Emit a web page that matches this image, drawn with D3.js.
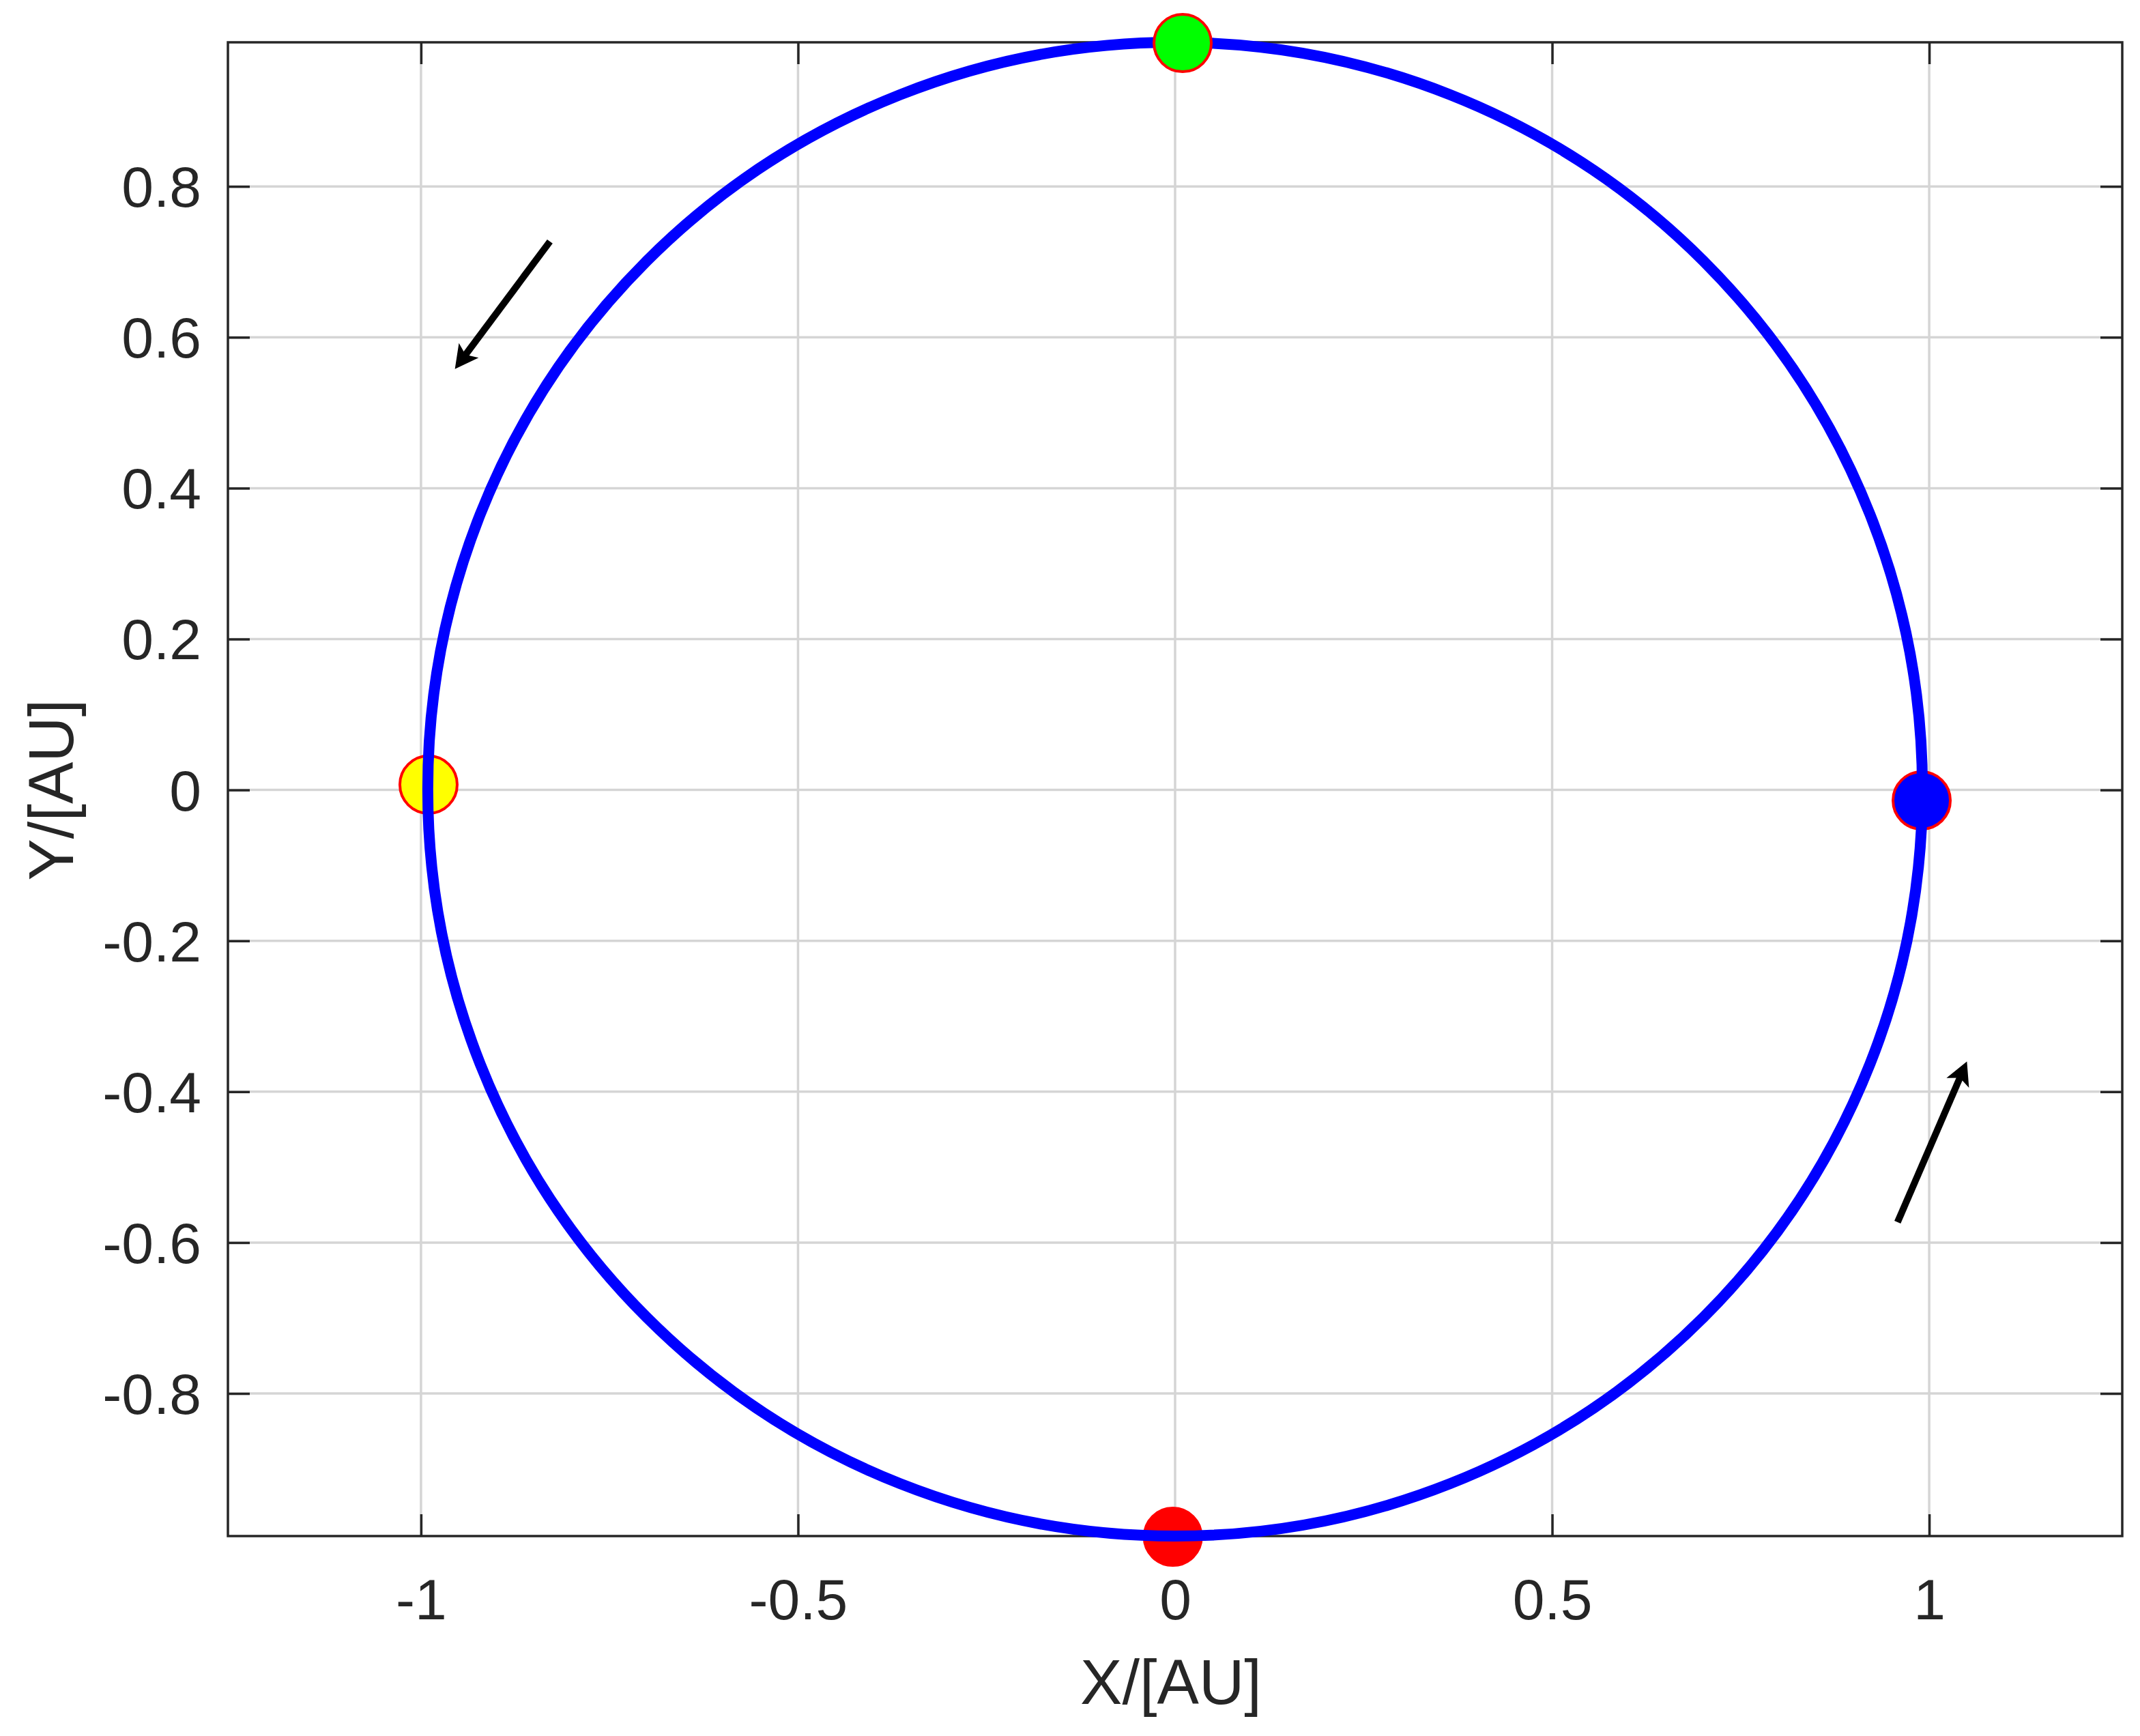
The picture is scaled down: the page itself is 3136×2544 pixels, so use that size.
<!DOCTYPE html>
<html>
<head>
<meta charset="utf-8">
<script src="https://cdn.jsdelivr.net/npm/d3@7"></script>
<style>
  html, body { margin: 0; padding: 0; background: #fff; }
  svg { display: block; }
</style>
</head>
<body>
<script>
// ---- data ----
const xTicks = [-1, -0.5, 0, 0.5, 1];
const yTicks = [-0.8, -0.6, -0.4, -0.2, 0, 0.2, 0.4, 0.6, 0.8];
const xDomain = [-1.256, 1.256];
const yDomain = [-0.989, 0.991];

// orbit (nearly circular): centre and radii in AU
const orbitCenter = [0.0, 0.001];
const orbitRadius = [0.991, 0.990];

// position markers
const markerNames = ["yellow", "red", "blue", "green"];
const markerX = [-0.990, -0.003, 0.990, 0.010];
const markerY = [0.007, -0.990, -0.014, 0.990];
const markerFill = ["#ffff00", "#ff0000", "#0000ff", "#00ff00"];

// direction arrows: tail -> tip
const arrowTailX = [-0.829, 0.958];
const arrowTailY = [0.727, -0.573];
const arrowTipX = [-0.955, 1.050];
const arrowTipY = [0.558, -0.360];

const xLabel = "X/[AU]";
const yLabel = "Y/[AU]";

// ---- layout ----
const W = 3136, H = 2544;
const mLeft = 334, mRight = 3110, mTop = 62, mBottom = 2251;
const axisColor = "#262626";
const font = "'Liberation Sans', Arial, Helvetica, sans-serif";

const svg = d3.select("body").append("svg")
  .attr("width", W).attr("height", H)
  .attr("viewBox", `0 0 ${W} ${H}`);

svg.append("rect").attr("width", W).attr("height", H).attr("fill", "#fff");

const x = d3.scaleLinear().domain(xDomain).range([mLeft, mRight]);
const y = d3.scaleLinear().domain(yDomain).range([mBottom, mTop]);

const fmt = v => (Math.abs(v) < 1e-9 ? "0" : String(+v.toFixed(2)));

// grid
const grid = svg.append("g");
grid.selectAll("line.gx").data(xTicks).join("line")
  .attr("class", "gx")
  .attr("x1", d => x(d)).attr("x2", d => x(d))
  .attr("y1", mTop).attr("y2", mBottom)
  .attr("stroke", "#d5d5d5").attr("stroke-width", 3.5);
grid.selectAll("line.gy").data(yTicks).join("line")
  .attr("class", "gy")
  .attr("x1", mLeft).attr("x2", mRight)
  .attr("y1", d => y(d)).attr("y2", d => y(d))
  .attr("stroke", "#d5d5d5").attr("stroke-width", 3.5);

// axes with inward ticks on all sides
const tickLen = 32;
const axB = d3.axisBottom(x).tickValues(xTicks).tickSize(-tickLen).tickPadding(0).tickFormat(fmt);
const axT = d3.axisTop(x).tickValues(xTicks).tickSize(-tickLen).tickFormat("");
const axL = d3.axisLeft(y).tickValues(yTicks).tickSize(-tickLen).tickFormat(fmt);
const axR = d3.axisRight(y).tickValues(yTicks).tickSize(-tickLen).tickFormat("");

function styleAxis(g) {
  g.select(".domain").remove();
  g.selectAll(".tick line").attr("stroke", axisColor).attr("stroke-width", 3.5);
  g.selectAll(".tick text").attr("fill", axisColor).attr("font-family", font).attr("font-size", 84);
}

const gB = svg.append("g").attr("transform", `translate(0,${mBottom})`).call(axB).call(styleAxis);
gB.selectAll(".tick text").attr("dy", null).attr("y", 122);

svg.append("g").attr("transform", `translate(0,${mTop})`).call(axT).call(styleAxis);

const gL = svg.append("g").attr("transform", `translate(${mLeft},0)`).call(axL).call(styleAxis);
gL.selectAll(".tick text").attr("x", -39).attr("dy", "0.35em");

svg.append("g").attr("transform", `translate(${mRight},0)`).call(axR).call(styleAxis);

// box
svg.append("rect")
  .attr("x", mLeft).attr("y", mTop)
  .attr("width", mRight - mLeft).attr("height", mBottom - mTop)
  .attr("fill", "none").attr("stroke", axisColor).attr("stroke-width", 3.5);

// axis labels
svg.append("text")
  .attr("x", (mLeft + mRight) / 2 - 6).attr("y", 2497)
  .attr("text-anchor", "middle")
  .attr("font-family", font).attr("font-size", 92).attr("fill", axisColor)
  .text(xLabel);

svg.append("text")
  .attr("transform", `translate(107,${y(0)}) rotate(-90)`)
  .attr("text-anchor", "middle")
  .attr("font-family", font).attr("font-size", 92).attr("fill", axisColor)
  .text(yLabel);

// markers and orbit
const markers = markerNames.map((n, i) => ({ name: n, x: markerX[i], y: markerY[i], fill: markerFill[i] }));
const rMark = 42;

function drawMarker(d) {
  svg.append("circle")
    .attr("cx", x(d.x)).attr("cy", y(d.y)).attr("r", rMark)
    .attr("fill", d.fill).attr("stroke", "#ff0000").attr("stroke-width", 4);
}

markers.filter(d => d.name !== "green").forEach(drawMarker);

svg.append("ellipse")
  .attr("cx", x(orbitCenter[0])).attr("cy", y(orbitCenter[1]))
  .attr("rx", x(orbitCenter[0] + orbitRadius[0]) - x(orbitCenter[0]))
  .attr("ry", y(orbitCenter[1]) - y(orbitCenter[1] + orbitRadius[1]))
  .attr("fill", "none").attr("stroke", "#0000ff").attr("stroke-width", 16);

markers.filter(d => d.name === "green").forEach(drawMarker);

// arrows
const defs = svg.append("defs");
defs.append("marker")
  .attr("id", "ahead")
  .attr("markerUnits", "userSpaceOnUse")
  .attr("viewBox", "-40 -22 44 44")
  .attr("markerWidth", 44).attr("markerHeight", 44)
  .attr("refX", 0).attr("refY", 0)
  .attr("orient", "auto")
  .append("path")
  .attr("d", "M0,0 L-34,-18 L-26,0 L-34,18 Z")
  .attr("fill", "#000");

const arrows = arrowTailX.map((v, i) => ({ x1: v, y1: arrowTailY[i], x2: arrowTipX[i], y2: arrowTipY[i] }));
arrows.forEach(a => {
  const X1 = x(a.x1), Y1 = y(a.y1), X2 = x(a.x2), Y2 = y(a.y2);
  const L = Math.hypot(X2 - X1, Y2 - Y1);
  const ux = (X2 - X1) / L, uy = (Y2 - Y1) / L;
  svg.append("line")
    .attr("x1", X1).attr("y1", Y1)
    .attr("x2", X2 - ux * 24).attr("y2", Y2 - uy * 24)
    .attr("stroke", "#000").attr("stroke-width", 10);
  svg.append("line")
    .attr("x1", X2 - ux * 25).attr("y1", Y2 - uy * 25)
    .attr("x2", X2).attr("y2", Y2)
    .attr("stroke", "#000").attr("stroke-width", 0.01)
    .attr("marker-end", "url(#ahead)");
});
</script>
</body>
</html>
